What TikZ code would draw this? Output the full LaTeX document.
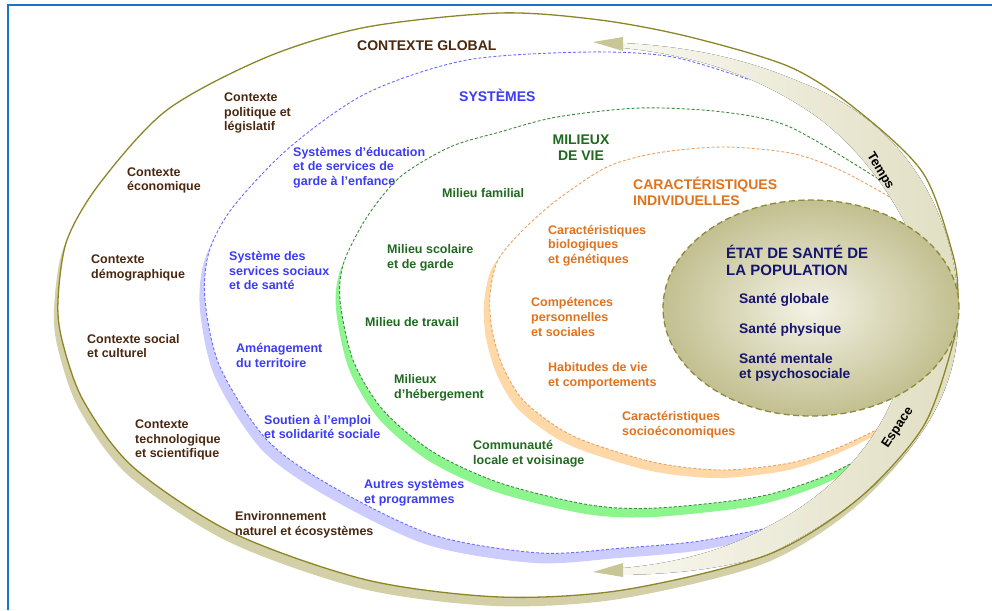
\documentclass[tikz,border=0pt]{standalone}
\usepackage{fontspec}
\setmainfont{Liberation Sans}

\definecolor{frameblue}{HTML}{1874C8}
\definecolor{ctxline}{HTML}{8C8628}
\definecolor{ctxkhaki}{HTML}{D3D0A8}
\definecolor{ctxtext}{HTML}{4A2810}
\definecolor{sysline}{HTML}{6B6BFF}
\definecolor{syslav}{HTML}{CCCCFF}
\definecolor{systext}{HTML}{3C3CF5}
\definecolor{milline}{HTML}{3C8A3C}
\definecolor{milgreen}{HTML}{8DF58D}
\definecolor{miltext}{HTML}{1F6A1F}
\definecolor{carline}{HTML}{EDA060}
\definecolor{carpeach}{HTML}{FFD8A8}
\definecolor{cartext}{HTML}{E0731E}
\definecolor{etatline}{HTML}{8E8A3A}
\definecolor{etatlight}{HTML}{F4F3E6}
\definecolor{etatdark}{HTML}{C2BF90}
\definecolor{etattext}{HTML}{16166E}
\definecolor{bandlight}{HTML}{F8F7EE}
\definecolor{banddark}{HTML}{E0DEC2}
\definecolor{headkhaki}{HTML}{C8C597}

\newcommand\ctxcurve{plot[smooth cycle] coordinates {(58,300) (67,240) (100,183) (167,110) (267,57) (367,27) (500,13) (600,20) (690,37) (790,67) (857,110) (923,173) (953,255) (958,300) (953,343) (923,427) (857,500) (767,555) (623,590) (500,597) (367,580) (233,533) (133,467) (83,400) (62,340)}}
\newcommand\sysarc{plot[smooth] coordinates {(782,525) (700,541) (623,548) (540,553) (433,535) (333,487) (267,440) (220,367) (205,300) (209,252) (233,207) (290,147) (367,93) (467,60) (590,52) (673,57) (750,80)}}
\newcommand\milarc{plot[smooth] coordinates {(872,452) (823,477) (757,497) (657,508) (590,505) (500,483) (433,452) (383,410) (353,360) (340,300) (344,262) (367,217) (400,177) (450,147) (500,132) (557,117) (640,108) (723,112) (790,127) (880,180)}}
\newcommand\cararc{plot[smooth] coordinates {(888,424) (840,447) (790,463) (723,470) (657,463) (590,443) (557,427) (523,400) (503,367) (492,330) (490,295) (498,260) (523,230) (557,200) (607,167) (657,153) (723,147) (790,153) (840,170) (895,200)}}

\begin{document}
\begin{tikzpicture}[x=1pt,y=-1pt,
    lbl/.style={anchor=west,inner sep=0pt,align=left,font=\fontsize{12.5}{14.6}\selectfont\bfseries},
    head/.style={font=\fontsize{14}{16}\selectfont\bfseries},
    ctx/.style={lbl,text=ctxtext},
    sys/.style={lbl,text=systext},
    mil/.style={lbl,text=miltext},
    car/.style={lbl,text=cartext},
    etat/.style={lbl,text=etattext,font=\fontsize{13.8}{15.5}\selectfont\bfseries},
    ring dash/.style={line width=0.9pt,dash pattern=on 3pt off 2pt},
    band/.style={left color=bandlight,right color=banddark},
    headfill/.style={fill=headkhaki},
    axis label/.style={font=\fontsize{13}{15}\selectfont\bfseries,inner sep=0pt}]

    \useasboundingbox (0,0) rectangle (992,610);

    \fill[ctxkhaki,shift={(-4,9)}] \ctxcurve;
    \fill[white] \ctxcurve;
    \fill[syslav,shift={(-5,10)}] \sysarc -- cycle;
    \fill[white] \sysarc -- cycle;
    \fill[milgreen,shift={(-4,9)}] \milarc -- cycle;
    \fill[white] \milarc -- cycle;
    \fill[carpeach,shift={(-6,8)}] \cararc -- cycle;
    \fill[white] \cararc -- cycle;

    \draw[ring dash,sysline] \sysarc;
    \draw[ring dash,milline] \milarc;
    \draw[ring dash,carline] \cararc;

    \fill[band] (958,325) .. controls (962,230) and (915,125) .. (800,82)
        .. controls (740,56) and (680,46) .. (623,43) -- (623,48)
        .. controls (690,55) and (750,72) .. (810,112)
        .. controls (880,160) and (930,250) .. (935,325) -- cycle;
    \fill[headfill] (623,37) -- (593,42) -- (623,51) -- cycle;
    \fill[band] (958,320) .. controls (958,420) and (880,500) .. (767,555)
        .. controls (720,570) and (670,574) .. (623,575) -- (623,568)
        .. controls (680,563) and (730,548) .. (767,527)
        .. controls (840,490) and (890,430) .. (905,360) -- cycle;
    \fill[headfill] (623,563) -- (593,572) -- (623,577) -- cycle;

    \draw[ctxline,line width=1.3pt] \ctxcurve;

    \draw[etatline,line width=1.3pt,dash pattern=on 6pt off 3.5pt,inner color=etatlight,outer color=etatdark]
        (811,308) ellipse [x radius=148pt,y radius=108pt];

    \node[axis label,rotate=-59] (temps) at (880,171) {Temps};
    \node[axis label,rotate=56] (espace) at (898,428) {Espace};

    \node[ctx,head] (ctxglobal) at (357,46) {CONTEXTE GLOBAL};
    \node[ctx] (ctxpol) at (224,113) {Contexte\\politique et\\législatif};
    \node[ctx] (ctxeco) at (127,180.5) {Contexte\\économique};
    \node[ctx] (ctxdemo) at (91,268) {Contexte\\démographique};
    \node[ctx] (ctxsoc) at (87,346) {Contexte social\\et culturel};
    \node[ctx] (ctxtech) at (135,440) {Contexte\\technologique\\et scientifique};
    \node[ctx] (ctxenv) at (235,525) {Environnement\\naturel et écosystèmes};

    \node[sys,head] (systemes) at (459,95) {SYSTÈMES};
    \node[sys] (syseduc) at (293,167.5) {Systèmes d’éducation\\et de services de\\garde à l’enfance};
    \node[sys] (syssoc) at (229,270.5) {Système des\\services sociaux\\et de santé};
    \node[sys] (sysamen) at (236,355.5) {Aménagement\\du territoire};
    \node[sys] (sysemploi) at (264,427) {Soutien à l’emploi\\et solidarité sociale};
    \node[sys] (sysautres) at (364,492.5) {Autres systèmes\\et programmes};

    \node[mil,head,align=center,anchor=center] (milieux) at (581,148) {MILIEUX\\DE VIE};
    \node[mil] (milfam) at (442,193) {Milieu familial};
    \node[mil] (milscol) at (387,257.5) {Milieu scolaire\\et de garde};
    \node[mil] (miltrav) at (365,322) {Milieu de travail};
    \node[mil] (milheb) at (394,388) {Milieux\\d’hébergement};
    \node[mil] (milcomm) at (473,453.5) {Communauté\\locale et voisinage};

    \node[car,head] (carindiv) at (633,191) {CARACTÉRISTIQUES\\INDIVIDUELLES};
    \node[car] (carbio) at (548,245.5) {Caractéristiques\\biologiques\\et génétiques};
    \node[car] (carcomp) at (531,317) {Compétences\\personnelles\\et sociales};
    \node[car] (carhab) at (548,375.5) {Habitudes de vie\\et comportements};
    \node[car] (carsocio) at (622,424.5) {Caractéristiques\\socioéconomiques};

    \node[etat,font=\fontsize{15}{17.5}\selectfont\bfseries] (etattitle) at (726,260.5) {ÉTAT DE SANTÉ DE\\LA POPULATION};
    \node[etat] (santeglob) at (739,300) {Santé globale};
    \node[etat] (santephys) at (739,330) {Santé physique};
    \node[etat] (santement) at (739,367.5) {Santé mentale\\et psychosociale};

    \draw[frameblue,line width=2pt] (8,610) -- (8,5) -- (992,5);
\end{tikzpicture}
\end{document}
